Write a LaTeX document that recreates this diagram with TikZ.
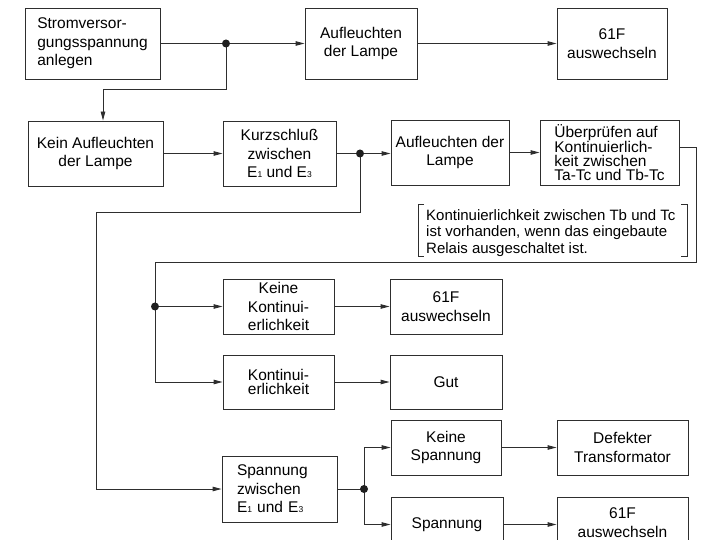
\documentclass[tikz,border=0pt]{standalone}
\usepackage{fontspec}
\setmainfont{Liberation Sans}
\usetikzlibrary{arrows.meta}
\newcommand\tinysub[1]{{\fontsize{8.5}{8.5}\selectfont #1}}
\begin{document}
\begin{tikzpicture}[x=1pt,y=-1pt,
  linec/.style={draw=black!82, line width=0.9pt},
  box/.style={linec, inner sep=0pt, align=center,
    font=\fontsize{15.5}{18.5}\selectfont},
  conn/.style={linec},
  arr/.style={linec, -{Triangle[length=9pt,width=4.5pt]}},
  dot/.style={fill=black!88}]
\useasboundingbox (0,0) rectangle (721,540);

% boxes
\node[box, minimum width=135pt, minimum height=71pt, align=left] (b1) at (92.5,43.5) {Stromversor-\\gungsspannung\\anlegen};
\node[box, minimum width=112pt, minimum height=71pt] (b2) at (361,43.5) {Aufleuchten\\der Lampe};
\node[box, minimum width=110pt, minimum height=71pt] (b3) at (612,43.5) {61F\\auswechseln};

\node[box, minimum width=135pt, minimum height=65pt] (b4) at (95.5,153.5) {Kein Aufleuchten\\der Lampe};
\node[box, minimum width=113pt, minimum height=65pt] (b5) at (279.5,153.5) {Kurzschluß\\zwischen\\E\tinysub{1} und E\tinysub{3}};
\node[box, minimum width=118pt, minimum height=65pt] (b6) at (450,152.5) {Aufleuchten der\\Lampe};
\node[box, minimum width=139pt, minimum height=65pt, align=left,
  font=\fontsize{15.5}{14}\selectfont] (b7) at (609.5,152.5) {Überprüfen auf\\Kontinuierlich-\\keit zwischen\\Ta-Tc und Tb-Tc};

\node[box, minimum width=111pt, minimum height=55pt] (b8) at (278.5,306.5) {Keine\\Kontinui-\\erlichkeit};
\node[box, minimum width=112pt, minimum height=55pt] (b9) at (446,306.5) {61F\\auswechseln};
\node[box, minimum width=111pt, minimum height=54pt, font=\fontsize{15.5}{14}\selectfont] (b10) at (278.5,382) {Kontinui-\\erlichkeit};
\node[box, minimum width=112pt, minimum height=54pt] (b11) at (446,382) {Gut};

\node[box, minimum width=115pt, minimum height=66pt, text width=85pt, align=left] (b12) at (279.5,489) {Spannung\\zwischen\\E\tinysub{1} und E\tinysub{3}};
\node[box, minimum width=110pt, minimum height=55pt] (b13) at (446,447.5) {Keine\\Spannung};
\node[box, minimum width=131pt, minimum height=55pt] (b14) at (622.5,447.5) {Defekter\\Transformator};
\node[box, minimum width=112pt, minimum height=55pt] (b15) at (447,524.5) {Spannung};
\node[box, minimum width=131pt, minimum height=51pt] (b16) at (622.5,522.5) {61F\\auswechseln};

% note
\node[inner sep=0pt, anchor=west, align=left, font=\fontsize{15}{16.5}\selectfont] (note) at (426,233) {Kontinuierlichkeit zwischen Tb und Tc\\ist vorhanden, wenn das eingebaute\\Relais ausgeschaltet ist.};
\draw[draw=black!82, line width=0.7pt] (424,204) -- (418,204) -- (418,256) -- (424,256);
\draw[draw=black!82, line width=0.7pt] (681,204) -- (687,204) -- (687,256) -- (681,256);

% junction coordinates
\coordinate (d1) at (226,43.5);
\coordinate (c1) at (103,89);
\coordinate (d2) at (360,153.5);
\coordinate (c5) at (360,212);
\coordinate (c6) at (96,212);
\coordinate (c2) at (696,147);
\coordinate (c3) at (696,262);
\coordinate (c4) at (155,262);
\coordinate (d3) at (155,306.5);
\coordinate (d4) at (364,489);

% connectors
\draw[conn] (b1.east) -- (d1);
\draw[arr] (d1) -- (b2.west);
\draw[arr] (b2.east) -- (b3.west);
\draw[arr] (d1) -- (d1 |- c1) -- (c1) -- (c1 |- b4.north);
\draw[arr] (b4.east) -- (b5.west);
\draw[conn] (b5.east) -- (d2);
\draw[arr] (d2) -- (d2 -| b6.west);
\draw[arr] (b6.east) -- (b7.west);
\draw[conn] (b7.east |- c2) -- (c2) -- (c3) -- (c4) -- (d3);
\draw[arr] (d3) -- (b8.west);
\draw[arr] (d3) -- (d3 |- b10.west) -- (b10.west);
\draw[arr] (b8.east) -- (b9.west);
\draw[arr] (b10.east) -- (b11.west);
\draw[arr] (d2) -- (c5) -- (c6) -- (c6 |- b12.west) -- (b12.west);
\draw[conn] (b12.east) -- (d4);
\draw[arr] (d4) |- (b13.west);
\draw[arr] (d4) |- (b15.west);
\draw[arr] (b13.east) -- (b14.west);
\draw[arr] (b15.east) -- (b15.east -| b16.west);

% dots
\fill[dot] (d1) circle (4pt);
\fill[dot] (d2) circle (4pt);
\fill[dot] (d3) circle (4pt);
\fill[dot] (d4) circle (4pt);
\end{tikzpicture}
\end{document}
